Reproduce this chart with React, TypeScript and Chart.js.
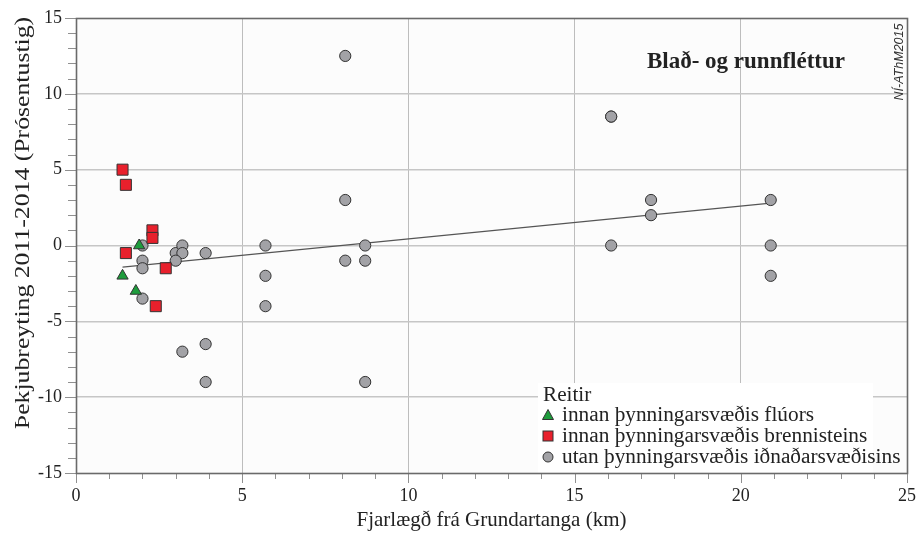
import React, { useEffect, useRef } from "react";
import { Chart, registerables } from "chart.js";

Chart.register(...registerables);

// ---- Data ----
const seriesLabels = [
  "innan þynningarsvæðis flúors",
  "innan þynningarsvæðis brennisteins",
  "utan þynningarsvæðis iðnaðarsvæðisins",
];
const legendTitle = "Reitir";
const chartTitle = "Blað- og runnfléttur";
const watermark = "NÍ-AThM2015";
const xTitle = "Fjarlægð frá Grundartanga (km)";
const yTitle = "Þekjubreyting 2011-2014 (Prósentustig)";

const fluorX = [1.9, 1.4, 1.8];
const fluorY = [0, -2, -3];

const sulfurX = [1.4, 1.5, 2.3, 2.3, 1.5, 2.7, 2.4];
const sulfurY = [5, 4, 1, 0.5, -0.5, -1.5, -4];

const outsideX = [2.0, 2.0, 2.0, 2.0, 3.0, 3.2, 3.2, 3.0, 3.9, 3.2, 3.9, 3.9, 5.7, 5.7, 5.7, 8.1, 8.1, 8.1, 8.7, 8.7, 8.7, 16.1, 16.1, 16.1, 17.3, 17.3, 20.9, 20.9, 20.9];
const outsideY = [0, -1, -1.5, -3.5, -0.5, 0, -0.5, -1, -0.5, -7, -6.5, -9, 0, -2, -4, 12.5, 3, -1, 0, -1, -9, 8.5, 8.5, 0, 3, 2, 3, 0, -2];

const trendX = [1.4, 20.9];
const trendY = [-1.42, 2.8];

const xMin = 0, xMax = 25, xStep = 5;
const yMin = -15, yMax = 15, yStep = 5;

const toPts = (xs: number[], ys: number[]) => xs.map((x, i) => ({ x, y: ys[i] }));

const GREEN = "#1e9c3c";
const RED = "#e8202c";
const GRAY = "#a2a2a6";
const EDGE = "#333333";
const SERIF = '"Liberation Serif", "Times New Roman", serif';
const SANS = '"Liberation Sans", Arial, sans-serif';

const decor = {
  id: "decor",
  beforeDraw(chart: any) {
    const { ctx, chartArea: a } = chart;
    ctx.save();
    ctx.fillStyle = "#fcfcfc";
    ctx.fillRect(a.left, a.top, a.right - a.left, a.bottom - a.top);
    ctx.restore();
  },
  afterDraw(chart: any) {
    const { ctx, chartArea: a, scales } = chart;
    const xs = scales.x, ys = scales.y;
    ctx.save();

    // legend background
    ctx.fillStyle = "#ffffff";
    ctx.fillRect(538, 383, 873 - 538, a.bottom - 383);

    // ticks
    ctx.strokeStyle = "#909090";
    ctx.lineWidth = 1;
    for (let v = xMin; v <= xMax; v++) {
      const px = Math.round(xs.getPixelForValue(v)) + 0.5;
      const len = v % xStep === 0 ? 10 : 6;
      ctx.beginPath();
      ctx.moveTo(px, a.bottom);
      ctx.lineTo(px, a.bottom + len);
      ctx.stroke();
    }
    for (let v = yMin; v <= yMax; v++) {
      const py = Math.round(ys.getPixelForValue(v)) + 0.5;
      const len = v % yStep === 0 ? 11 : 8;
      ctx.beginPath();
      ctx.moveTo(a.left, py);
      ctx.lineTo(a.left - len, py);
      ctx.stroke();
    }

    // frame
    ctx.strokeStyle = "#6a6a6a";
    ctx.lineWidth = 1.6;
    ctx.strokeRect(a.left + 0.5, a.top + 0.5, a.right - a.left, a.bottom - a.top);

    // y axis title
    ctx.save();
    ctx.translate(23, 223);
    ctx.rotate(-Math.PI / 2);
    ctx.scale(1.17, 1);
    ctx.font = `22px ${SERIF}`;
    ctx.fillStyle = "#222";
    ctx.textAlign = "center";
    ctx.textBaseline = "middle";
    ctx.fillText(yTitle, 0, 0);
    ctx.restore();

    // chart title
    ctx.fillStyle = "#222";
    ctx.font = `bold 23px ${SERIF}`;
    ctx.textAlign = "center";
    ctx.textBaseline = "alphabetic";
    ctx.fillText(chartTitle, 746, 68);

    // watermark
    ctx.save();
    ctx.translate(900, 62);
    ctx.rotate(-Math.PI / 2);
    ctx.font = `italic 12.5px ${SANS}`;
    ctx.fillStyle = "#333";
    ctx.textAlign = "center";
    ctx.textBaseline = "middle";
    ctx.fillText(watermark, 0, 0);
    ctx.restore();

    // legend
    const lx = 543;
    ctx.fillStyle = "#222";
    ctx.textAlign = "left";
    ctx.textBaseline = "alphabetic";
    ctx.font = `20px ${SERIF}`;
    ctx.save();
    ctx.translate(lx, 401);
    ctx.scale(1.06, 1);
    ctx.fillText(legendTitle, 0, 0);
    ctx.restore();
    const rows = [415, 436, 457];
    const mx = 548;
    ctx.lineWidth = 1;
    ctx.strokeStyle = EDGE;
    // triangle
    ctx.fillStyle = GREEN;
    ctx.beginPath();
    ctx.moveTo(mx, rows[0] - 5.5);
    ctx.lineTo(mx + 5.5, rows[0] + 4.5);
    ctx.lineTo(mx - 5.5, rows[0] + 4.5);
    ctx.closePath();
    ctx.fill();
    ctx.stroke();
    // square
    ctx.fillStyle = RED;
    ctx.fillRect(mx - 5, rows[1] - 5, 10, 10);
    ctx.strokeRect(mx - 5, rows[1] - 5, 10, 10);
    // circle
    ctx.fillStyle = GRAY;
    ctx.beginPath();
    ctx.arc(mx, rows[2], 5, 0, Math.PI * 2);
    ctx.fill();
    ctx.stroke();
    ctx.fillStyle = "#222";
    seriesLabels.forEach((t, i) => {
      ctx.save();
      ctx.translate(562, rows[i] + 5.5);
      ctx.scale(1.065, 1);
      ctx.fillText(t, 0, 0);
      ctx.restore();
    });

    ctx.restore();
  },
};

const noPad = (s: any) => {
  s.paddingTop = 0;
  s.paddingBottom = 0;
  s.paddingLeft = 0;
  s.paddingRight = 0;
};

export default function App() {
  const ref = useRef<HTMLCanvasElement>(null);
  useEffect(() => {
    if (!ref.current) return;
    const chart = new Chart(ref.current, {
      type: "scatter",
      data: {
        datasets: [
          {
            label: seriesLabels[0],
            data: toPts(fluorX, fluorY),
            pointStyle: "triangle",
            radius: 6.5,
            backgroundColor: GREEN,
            borderColor: EDGE,
            borderWidth: 1,
          },
          {
            label: seriesLabels[1],
            data: toPts(sulfurX, sulfurY),
            pointStyle: "rect",
            radius: 7.8,
            backgroundColor: RED,
            borderColor: EDGE,
            borderWidth: 1,
          },
          {
            label: seriesLabels[2],
            data: toPts(outsideX, outsideY),
            pointStyle: "circle",
            radius: 5.6,
            backgroundColor: GRAY,
            borderColor: EDGE,
            borderWidth: 1,
          },
          {
            type: "line",
            label: "trend",
            data: toPts(trendX, trendY),
            borderColor: "#555555",
            borderWidth: 1.2,
            pointRadius: 0,
            fill: false,
          } as any,
        ],
      },
      options: {
        responsive: false,
        animation: false,
        events: [],
        layout: { padding: { left: 0, right: 10, top: 18, bottom: 0 } },
        plugins: {
          legend: { display: false },
          tooltip: { enabled: false },
          title: { display: false },
        },
        scales: {
          x: {
            type: "linear",
            min: xMin,
            max: xMax,
            ticks: {
              stepSize: xStep,
              color: "#222",
              font: { family: SERIF, size: 18 },
              padding: 12,
              maxRotation: 0,
            },
            grid: {
              drawTicks: false,
              color: (c: any) =>
                c.tick && (c.tick.value === xMin || c.tick.value === xMax) ? "rgba(0,0,0,0)" : "#bdbdbd",
              lineWidth: 1,
            },
            border: { display: false },
            title: {
              display: true,
              text: xTitle,
              color: "#222",
              font: { family: SERIF, size: 21 },
              padding: { top: 0, bottom: 0 },
            },
            afterFit: (s: any) => {
              s.height = 60;
              noPad(s);
            },
          },
          y: {
            type: "linear",
            min: yMin,
            max: yMax,
            ticks: {
              stepSize: yStep,
              color: "#222",
              font: { family: SERIF, size: 18 },
              padding: 14,
            },
            grid: {
              drawTicks: false,
              color: (c: any) =>
                c.tick && (c.tick.value === yMin || c.tick.value === yMax) ? "rgba(0,0,0,0)" : "#c6c6c6",
              lineWidth: 1.5,
            },
            border: { display: false },
            title: { display: false, text: yTitle },
            afterFit: (s: any) => {
              s.width = 76;
              noPad(s);
            },
          },
        },
      } as any,
      plugins: [decor],
    });
    return () => chart.destroy();
  }, []);

  return (
    <div style={{ position: "fixed", left: 0, top: 0, width: 917, height: 533, background: "#fff" }}>
      <canvas ref={ref} width={917} height={533} style={{ display: "block", width: 917, height: 533 }} />
    </div>
  );
}
